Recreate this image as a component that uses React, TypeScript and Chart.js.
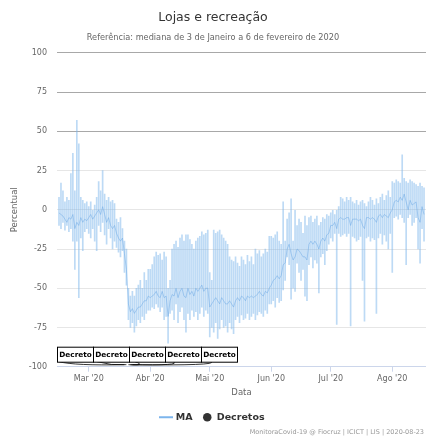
import React, { useEffect, useRef } from 'react';
import { Chart, registerables } from 'chart.js';
Chart.register(...registerables);

// Day 0 = 1 Mar 2020; first data point 15 Feb 2020
const startDay = -15;

const maHigh = [
  // Feb 15-29
  8, 17, 12, 5, 8, 6, 23, 36, 12, 57, 42, 8, 6, 4, 5,
  // Mar 1-20
  2, 5, 0, 3, 8, 18, 12, 25, 10, 6, 8, 5, 6, 4, -6, -8, -5, -12, -20, -25,
  // Mar 21-31
  -50, -55, -52, -55, -50, -48, -45, -50, -40, -45, -38,
  // Apr
  -38, -35, -30, -27, -29, -28, -32, -27, -30, -50, -45, -25, -22, -20, -24, -18, -16, -20, -16, -16, -19, -22, -25, -20, -18, -17, -14, -16, -15, -13,
  // May
  -40, -45, -13, -15, -14, -13, -16, -18, -20, -22, -30, -32, -33, -30, -34, -36, -30, -32, -35, -29, -33, -30, -35, -25, -28, -26, -30, -28, -25, -27, -17,
  // Jun
  -17, -18, -16, -14, -20, -22, 5, -20, -6, -2, 7, -20, 0, -10, -6, -8, -15, -4, -10, -5, -4, -8, -6, -4, -10, -8, -5, -6, -3, -4,
  // Jul
  -2, 0, -3, 0, 2, 8, 7, 5, 8, 6, 8, 5, 4, 6, 3, 5, 6, 4, 2, 5, 8, 6, 3, 7, 4, 8, 10, 6, 9, 12, 8,
  // Aug 1-17
  18, 17, 19, 18, 17, 35, 20, 18, 17, 19, 18, 17, 16, 15, 17, 15, 14,
];

const maLow = [
  -10, -12, -8, -13, -10, -14, -12, -20, -38, -20, -56, -18, -26, -14, -12,
  -15, -18, -12, -20, -26, -10, -14, -8, -16, -22, -12, -18, -25, -20, -24, -27, -30, -26, -40, -48,
  -70, -75, -72, -78, -74, -70, -72, -68, -70, -66, -64,
  -64, -62, -63, -60, -62, -65, -62, -70, -68, -85, -66, -64, -70, -60, -72, -65, -62, -70, -78, -66, -70, -64, -68, -65, -70, -66, -62, -68, -64, -66,
  -81, -75, -78, -72, -82, -76, -70, -75, -74, -78, -72, -76, -79, -70, -68, -72, -67, -70, -69, -66, -70, -68, -66, -70, -67, -65, -66, -68, -64, -66, -60,
  -60, -58, -62, -56, -59, -58, -51, -45, -30, -35, -57, -50, -52, -34, -40, -45, -38, -55, -58, -35, -30, -37, -32, -34, -53, -30, -28, -35, -26, -22,
  -18, -20, -15, -73, -15, -17, -16, -15, -17, -15, -74, -17, -18, -20, -19, -17, -45, -71, -18, -17, -20, -18, -19, -66, -18, -15, -22, -16, -20, -25, -15,
  -40, -5, -4, -6, -3, -5, -8, -35, -5, -3, -10, -8, -5, -25, -34, -12, -20,
];

const maMid = [
  -2, -3, -4, -6, -8, -5, -6, -3, -12, -8, -10, -5, -8, -6, -7,
  -5, -3, -6, -4, -2, 0, -3, 2, -3, -8, -5, -10, -12, -10, -15, -18, -20, -18, -28, -38,
  -60, -65, -63, -66, -64, -62, -62, -60, -58, -58, -55,
  -56, -55, -54, -52, -55, -56, -52, -56, -55, -68, -58, -54, -55, -50, -56, -52, -50, -55, -56, -50, -54, -52, -55, -50, -52, -50, -48, -52, -50, -50,
  -62, -60, -58, -56, -58, -60, -56, -58, -60, -60, -58, -60, -62, -58, -56, -58, -55, -56, -58, -55, -56, -55, -56, -55, -54, -52, -54, -55, -52, -53, -50,
  -48, -45, -44, -42, -44, -42, -35, -34, -25, -22, -28, -32, -30, -25, -26, -28, -30, -30, -32, -22, -20, -22, -20, -22, -25, -20, -18, -20, -16, -15,
  -10, -10, -8, -12, -6, -5, -6, -6, -5, -5, -10, -6, -6, -6, -7, -6, -10, -12, -5, -5, -6, -5, -6, -8, -4, -3, -5, -3, -4, -5, -2,
  0, 5, 6, 5, 8, 6, 10, 5, 0, 6, 3, 4, 5, -5, -8, 2, -3,
];

const decreeDays = [18, 19, 20, 21, 22];
const decreeLabels = ['Decreto', 'Decreto', 'Decreto', 'Decreto', 'Decreto'];

const monthTicks = [0, 31, 61, 92, 122, 153];
const monthLabels = ["Mar '20", "Abr '20", "Mai '20", "Jun '20", "Jul '20", "Ago '20"];

const titleText = 'Lojas e recreação';
const subtitleText = 'Referência: mediana de 3 de Janeiro a 6 de fevereiro de 2020';
const creditText = 'MonitoraCovid-19 @ Fiocruz | ICICT | LIS | 2020-08-23';

const FONT = '"DejaVu Sans", sans-serif';

const flagsPlugin = {
  id: 'flags',
  afterDatasetsDraw(chart: any) {
    const idx = chart.data.datasets.findIndex((d: any) => d.label === 'Decretos');
    if (idx < 0) return;
    const pts = chart.getDatasetMeta(idx).data;
    if (!pts.length) return;
    const { ctx, chartArea } = chart;
    const w = 36, h = 15;
    const n = pts.length;
    const mean = pts.reduce((s: number, p: any) => s + p.x, 0) / n;
    const start = Math.max(chartArea.left, mean - (n * w) / 2);
    const yTop = chart.scales.y.getPixelForValue(-100) - 20;
    ctx.save();
    ctx.strokeStyle = '#000';
    ctx.lineWidth = 0.8;
    pts.forEach((p: any, i: number) => {
      const bx = start + i * w;
      ctx.beginPath();
      ctx.moveTo(bx + 2 + i * 2, yTop + h);
      ctx.quadraticCurveTo(bx + w / 2, p.y - 1, p.x, p.y - 2);
      ctx.stroke();
    });
    pts.forEach((p: any, i: number) => {
      const bx = start + i * w;
      ctx.fillStyle = '#fff';
      ctx.fillRect(bx + 0.5, yTop + 0.5, w, h);
      ctx.strokeStyle = '#000';
      ctx.lineWidth = 1;
      ctx.strokeRect(bx + 0.5, yTop + 0.5, w, h);
      ctx.fillStyle = '#000';
      ctx.font = 'bold 7.3px ' + FONT;
      ctx.textAlign = 'center';
      ctx.textBaseline = 'middle';
      ctx.fillText(decreeLabels[i], bx + w / 2 + 0.5, yTop + h / 2 + 1);
    });
    ctx.restore();
  },
};

const creditsPlugin = {
  id: 'credits',
  afterDraw(chart: any) {
    const { ctx, width, height } = chart;
    ctx.save();
    ctx.font = '6.5px ' + FONT;
    ctx.fillStyle = '#999';
    ctx.textAlign = 'right';
    ctx.textBaseline = 'middle';
    ctx.fillText(creditText, width - 2, height - 5);
    ctx.restore();
  },
};

function makeLineIcon() {
  const c = document.createElement('canvas');
  c.width = 14;
  c.height = 4;
  const x = c.getContext('2d')!;
  x.strokeStyle = '#7cb5ec';
  x.lineWidth = 2;
  x.beginPath();
  x.moveTo(0, 2);
  x.lineTo(14, 2);
  x.stroke();
  return c;
}

export default function App() {
  const ref = useRef<HTMLCanvasElement>(null);
  useEffect(() => {
    document.body.style.margin = '0';
    const days = maHigh.map((_, i) => startDay + i);
    const rangeData = days.map((d, i) => ({ x: d, y: [maLow[i], maHigh[i]] }));
    const midData = days.map((d, i) => ({ x: d, y: maMid[i] }));
    const decreeData = decreeDays.map((d) => ({ x: d, y: -100 }));
    const lineIcon = makeLineIcon();

    const chart = new Chart(ref.current!, {
      type: 'bar',
      data: {
        datasets: [
          {
            type: 'bar',
            label: 'MA faixa',
            data: rangeData as any,
            backgroundColor: 'rgba(124,181,236,0.5)',
            borderWidth: 0,
            barThickness: 1,
            order: 2,
          } as any,
          {
            type: 'line',
            label: 'MA',
            data: midData as any,
            borderColor: 'rgba(110,170,230,0.5)',
            backgroundColor: '#7cb5ec',
            borderWidth: 1,
            pointRadius: 0,
            tension: 0,
            order: 1,
          } as any,
          {
            type: 'scatter',
            label: 'Decretos',
            data: decreeData as any,
            pointRadius: 0,
            backgroundColor: '#333',
            borderColor: '#333',
            order: 0,
          } as any,
        ],
      },
      options: {
        responsive: true,
        maintainAspectRatio: false,
        animation: false,
        events: [],
        layout: { padding: { left: 0, right: 0, top: 0, bottom: 5 } },
        plugins: {
          tooltip: { enabled: false },
          title: {
            display: true,
            text: titleText,
            color: '#333',
            font: { family: FONT, size: 12.5, weight: 'normal' },
            padding: { top: 10, bottom: 6 },
          },
          subtitle: {
            display: true,
            text: subtitleText,
            color: '#666',
            font: { family: FONT, size: 8.2 },
            padding: { top: 2, bottom: 10 },
          },
          legend: {
            display: true,
            position: 'bottom',
            labels: {
              usePointStyle: true,
              boxHeight: 6,
              padding: 10,
              color: '#333',
              font: { family: FONT, size: 9.5, weight: 'bold' },
              generateLabels: () => [
                {
                  text: 'MA',
                  pointStyle: lineIcon as any,
                  fillStyle: '#7cb5ec',
                  strokeStyle: '#7cb5ec',
                  lineWidth: 2,
                  hidden: false,
                  datasetIndex: 1,
                  fontColor: '#333',
                },
                {
                  text: 'Decretos',
                  pointStyle: 'circle',
                  fillStyle: '#333',
                  strokeStyle: '#333',
                  lineWidth: 0,
                  hidden: false,
                  datasetIndex: 2,
                  fontColor: '#333',
                },
              ],
            },
          },
        },
        scales: {
          x: {
            type: 'linear',
            min: -16,
            max: 170,
            offset: false,
            grid: {
              offset: false,
              drawOnChartArea: false,
              drawTicks: true,
              tickLength: 5,
              color: '#ccd6eb',
            },
            border: { display: true, color: '#ccd6eb' },
            afterBuildTicks: (scale: any) => {
              scale.ticks = monthTicks.map((v) => ({ value: v }));
            },
            ticks: {
              autoSkip: false,
              maxRotation: 0,
              color: '#666',
              padding: 2,
              font: { family: FONT, size: 8 },
              callback: (v: any) => {
                const k = monthTicks.indexOf(Number(v));
                return k >= 0 ? monthLabels[k] : '';
              },
            },
            title: {
              display: true,
              text: 'Data',
              color: '#666',
              font: { family: FONT, size: 8.5 },
              padding: { top: 2, bottom: 5 },
            },
          },
          y: {
            type: 'linear',
            min: -100,
            max: 100,
            afterFit: (scale: any) => {
              scale.width = 57;
            },
            grid: {
              drawTicks: false,
              color: (ctx: any) => (ctx.tick && ctx.tick.value >= 50 ? '#a8a8a8' : '#e6e6e6'),
            },
            border: { display: false },
            ticks: {
              stepSize: 25,
              color: '#666',
              padding: 10,
              font: { family: FONT, size: 8 },
            },
            title: {
              display: true,
              text: 'Percentual',
              color: '#666',
              font: { family: FONT, size: 8.5 },
              padding: { top: 10, bottom: 0 },
            },
          },
        },
      } as any,
      plugins: [flagsPlugin, creditsPlugin],
    });
    return () => chart.destroy();
  }, []);

  return (
    <div style={{ position: 'relative', width: 426, height: 437 }}>
      <canvas ref={ref} />
    </div>
  );
}
